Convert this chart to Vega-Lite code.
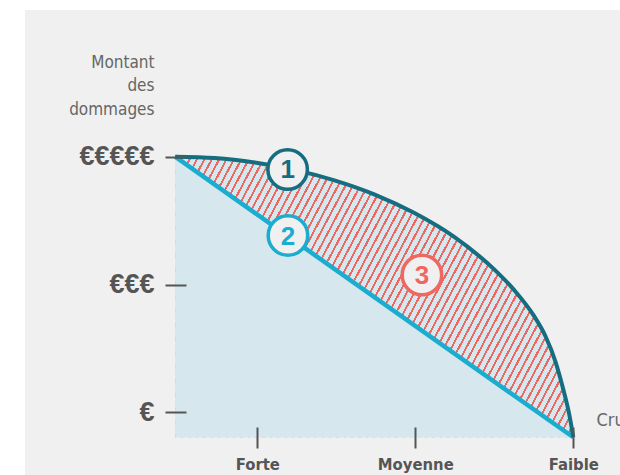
{
  "$schema": "https://vega.github.io/schema/vega-lite/v6.json",
  "width": 595,
  "height": 465,
  "autosize": {"type": "none"},
  "padding": {"left": 25, "top": 10, "right": 0, "bottom": 0},
  "background": "white",
  "config": {"view": {"fill": "#f0f0f0", "stroke": null}},
  "datasets": {
    "curve": [
      {"x": 0.48, "y": 5.0},
      {"x": 0.732, "y": 4.978},
      {"x": 0.984, "y": 4.908},
      {"x": 1.236, "y": 4.794},
      {"x": 1.488, "y": 4.631},
      {"x": 1.74, "y": 4.412},
      {"x": 1.992, "y": 4.122},
      {"x": 2.244, "y": 3.749},
      {"x": 2.496, "y": 3.244},
      {"x": 2.622, "y": 2.924},
      {"x": 2.748, "y": 2.52},
      {"x": 2.824, "y": 2.19},
      {"x": 2.887, "y": 1.795},
      {"x": 2.937, "y": 1.356},
      {"x": 2.975, "y": 0.961},
      {"x": 3.0, "y": 0.61}
    ],
    "straight": [
      {"x": 0.48, "y": 5.0},
      {"x": 3.0, "y": 0.61}
    ],
    "labels": [
      {"n": "1", "x": 1.192, "y": 4.8},
      {"n": "2", "x": 1.194, "y": 3.767},
      {"n": "3", "x": 2.042, "y": 3.149}
    ]
  },
  "encoding": {
    "x": {
      "field": "x", "type": "quantitative",
      "scale": {"domain": [-0.4703, 3.2956], "nice": false, "zero": false},
      "axis": {
        "values": [1, 2, 3],
        "labelExpr": "datum.value == 1 ? 'Forte' : datum.value == 2 ? 'Moyenne' : 'Faible'",
        "domain": false, "grid": false, "offset": -48,
        "tickSize": 21, "tickWidth": 2, "tickColor": "#555555",
        "labelPadding": 8, "labelFlush": false, "labelOverlap": false,
        "labelFont": "DejaVu Sans Condensed",
        "labelFontSize": 16.5, "labelFontWeight": "bold", "labelColor": "#555555",
        "title": "Crue", "titleX": 571, "titleY": -2, "titleAlign": "left", "titleBaseline": "alphabetic",
        "titleFont": "DejaVu Sans Condensed",
        "titleFontSize": 18, "titleFontWeight": "normal", "titleColor": "#666666",
        "zindex": 1
      }
    },
    "y": {
      "field": "y", "type": "quantitative",
      "scale": {"domain": [0.019, 7.296], "nice": false, "zero": false},
      "axis": {
        "values": [1, 3, 5],
        "labelExpr": "datum.value == 1 ? '€' : datum.value == 3 ? '€€€' : '€€€€€'",
        "domain": false, "grid": false, "offset": -161,
        "tickSize": 21, "tickWidth": 2, "tickColor": "#555555",
        "labelPadding": 11, "labelOverlap": false,
        "labelFont": "Liberation Sans", "labelFontSize": 27, "labelFontWeight": "bold", "labelColor": "#555555",
        "title": ["Montant", "des", "dommages"], "titleAngle": 0, "titleAlign": "right", "titleBaseline": "alphabetic",
        "titleX": -32, "titleY": 57, "titleLineHeight": 23.5,
        "titleFont": "DejaVu Sans Condensed",
        "titleFontSize": 17, "titleFontWeight": "normal", "titleColor": "#666666",
        "zindex": 1
      }
    }
  },
  "layer": [
    {
      "data": {"name": "curve"},
      "mark": {
        "type": "area", "interpolate": "monotone",
        "fill": {
          "gradient": "linear", "x1": 0, "y1": 0, "x2": 1.2053, "y2": 0.4504,
          "stops": [
            {"offset": 0, "color": "#ee6861"}, {"offset": 0.004, "color": "#ee6861"}, {"offset": 0.004, "color": "#d6e8ed"}, {"offset": 0.0135, "color": "#d6e8ed"},
            {"offset": 0.0135, "color": "#ee6861"}, {"offset": 0.0175, "color": "#ee6861"}, {"offset": 0.0175, "color": "#d6e8ed"}, {"offset": 0.027, "color": "#d6e8ed"},
            {"offset": 0.027, "color": "#ee6861"}, {"offset": 0.031, "color": "#ee6861"}, {"offset": 0.031, "color": "#d6e8ed"}, {"offset": 0.0405, "color": "#d6e8ed"},
            {"offset": 0.0405, "color": "#ee6861"}, {"offset": 0.0445, "color": "#ee6861"}, {"offset": 0.0445, "color": "#d6e8ed"}, {"offset": 0.054, "color": "#d6e8ed"},
            {"offset": 0.054, "color": "#ee6861"}, {"offset": 0.058, "color": "#ee6861"}, {"offset": 0.058, "color": "#d6e8ed"}, {"offset": 0.0675, "color": "#d6e8ed"},
            {"offset": 0.0675, "color": "#ee6861"}, {"offset": 0.0715, "color": "#ee6861"}, {"offset": 0.0715, "color": "#d6e8ed"}, {"offset": 0.081, "color": "#d6e8ed"},
            {"offset": 0.081, "color": "#ee6861"}, {"offset": 0.085, "color": "#ee6861"}, {"offset": 0.085, "color": "#d6e8ed"}, {"offset": 0.0945, "color": "#d6e8ed"},
            {"offset": 0.0945, "color": "#ee6861"}, {"offset": 0.0985, "color": "#ee6861"}, {"offset": 0.0985, "color": "#d6e8ed"}, {"offset": 0.108, "color": "#d6e8ed"},
            {"offset": 0.108, "color": "#ee6861"}, {"offset": 0.112, "color": "#ee6861"}, {"offset": 0.112, "color": "#d6e8ed"}, {"offset": 0.1215, "color": "#d6e8ed"},
            {"offset": 0.1215, "color": "#ee6861"}, {"offset": 0.1255, "color": "#ee6861"}, {"offset": 0.1255, "color": "#d6e8ed"}, {"offset": 0.135, "color": "#d6e8ed"},
            {"offset": 0.135, "color": "#ee6861"}, {"offset": 0.139, "color": "#ee6861"}, {"offset": 0.139, "color": "#d6e8ed"}, {"offset": 0.1485, "color": "#d6e8ed"},
            {"offset": 0.1485, "color": "#ee6861"}, {"offset": 0.1525, "color": "#ee6861"}, {"offset": 0.1525, "color": "#d6e8ed"}, {"offset": 0.162, "color": "#d6e8ed"},
            {"offset": 0.162, "color": "#ee6861"}, {"offset": 0.166, "color": "#ee6861"}, {"offset": 0.166, "color": "#d6e8ed"}, {"offset": 0.1755, "color": "#d6e8ed"},
            {"offset": 0.1755, "color": "#ee6861"}, {"offset": 0.1795, "color": "#ee6861"}, {"offset": 0.1795, "color": "#d6e8ed"}, {"offset": 0.189, "color": "#d6e8ed"},
            {"offset": 0.189, "color": "#ee6861"}, {"offset": 0.193, "color": "#ee6861"}, {"offset": 0.193, "color": "#d6e8ed"}, {"offset": 0.2025, "color": "#d6e8ed"},
            {"offset": 0.2025, "color": "#ee6861"}, {"offset": 0.2065, "color": "#ee6861"}, {"offset": 0.2065, "color": "#d6e8ed"}, {"offset": 0.216, "color": "#d6e8ed"},
            {"offset": 0.216, "color": "#ee6861"}, {"offset": 0.22, "color": "#ee6861"}, {"offset": 0.22, "color": "#d6e8ed"}, {"offset": 0.2295, "color": "#d6e8ed"},
            {"offset": 0.2295, "color": "#ee6861"}, {"offset": 0.2335, "color": "#ee6861"}, {"offset": 0.2335, "color": "#d6e8ed"}, {"offset": 0.243, "color": "#d6e8ed"},
            {"offset": 0.243, "color": "#ee6861"}, {"offset": 0.247, "color": "#ee6861"}, {"offset": 0.247, "color": "#d6e8ed"}, {"offset": 0.2565, "color": "#d6e8ed"},
            {"offset": 0.2565, "color": "#ee6861"}, {"offset": 0.2605, "color": "#ee6861"}, {"offset": 0.2605, "color": "#d6e8ed"}, {"offset": 0.27, "color": "#d6e8ed"},
            {"offset": 0.27, "color": "#ee6861"}, {"offset": 0.274, "color": "#ee6861"}, {"offset": 0.274, "color": "#d6e8ed"}, {"offset": 0.2835, "color": "#d6e8ed"},
            {"offset": 0.2835, "color": "#ee6861"}, {"offset": 0.2875, "color": "#ee6861"}, {"offset": 0.2875, "color": "#d6e8ed"}, {"offset": 0.297, "color": "#d6e8ed"},
            {"offset": 0.297, "color": "#ee6861"}, {"offset": 0.301, "color": "#ee6861"}, {"offset": 0.301, "color": "#d6e8ed"}, {"offset": 0.3105, "color": "#d6e8ed"},
            {"offset": 0.3105, "color": "#ee6861"}, {"offset": 0.3145, "color": "#ee6861"}, {"offset": 0.3145, "color": "#d6e8ed"}, {"offset": 0.324, "color": "#d6e8ed"},
            {"offset": 0.324, "color": "#ee6861"}, {"offset": 0.328, "color": "#ee6861"}, {"offset": 0.328, "color": "#d6e8ed"}, {"offset": 0.3375, "color": "#d6e8ed"},
            {"offset": 0.3375, "color": "#ee6861"}, {"offset": 0.3415, "color": "#ee6861"}, {"offset": 0.3415, "color": "#d6e8ed"}, {"offset": 0.351, "color": "#d6e8ed"},
            {"offset": 0.351, "color": "#ee6861"}, {"offset": 0.355, "color": "#ee6861"}, {"offset": 0.355, "color": "#d6e8ed"}, {"offset": 0.3645, "color": "#d6e8ed"},
            {"offset": 0.3645, "color": "#ee6861"}, {"offset": 0.3685, "color": "#ee6861"}, {"offset": 0.3685, "color": "#d6e8ed"}, {"offset": 0.378, "color": "#d6e8ed"},
            {"offset": 0.378, "color": "#ee6861"}, {"offset": 0.382, "color": "#ee6861"}, {"offset": 0.382, "color": "#d6e8ed"}, {"offset": 0.3915, "color": "#d6e8ed"},
            {"offset": 0.3915, "color": "#ee6861"}, {"offset": 0.3955, "color": "#ee6861"}, {"offset": 0.3955, "color": "#d6e8ed"}, {"offset": 0.405, "color": "#d6e8ed"},
            {"offset": 0.405, "color": "#ee6861"}, {"offset": 0.409, "color": "#ee6861"}, {"offset": 0.409, "color": "#d6e8ed"}, {"offset": 0.4185, "color": "#d6e8ed"},
            {"offset": 0.4185, "color": "#ee6861"}, {"offset": 0.4225, "color": "#ee6861"}, {"offset": 0.4225, "color": "#d6e8ed"}, {"offset": 0.432, "color": "#d6e8ed"},
            {"offset": 0.432, "color": "#ee6861"}, {"offset": 0.436, "color": "#ee6861"}, {"offset": 0.436, "color": "#d6e8ed"}, {"offset": 0.4455, "color": "#d6e8ed"},
            {"offset": 0.4455, "color": "#ee6861"}, {"offset": 0.4495, "color": "#ee6861"}, {"offset": 0.4495, "color": "#d6e8ed"}, {"offset": 0.459, "color": "#d6e8ed"},
            {"offset": 0.459, "color": "#ee6861"}, {"offset": 0.463, "color": "#ee6861"}, {"offset": 0.463, "color": "#d6e8ed"}, {"offset": 0.4725, "color": "#d6e8ed"},
            {"offset": 0.4725, "color": "#ee6861"}, {"offset": 0.4765, "color": "#ee6861"}, {"offset": 0.4765, "color": "#d6e8ed"}, {"offset": 0.486, "color": "#d6e8ed"},
            {"offset": 0.486, "color": "#ee6861"}, {"offset": 0.49, "color": "#ee6861"}, {"offset": 0.49, "color": "#d6e8ed"}, {"offset": 0.4995, "color": "#d6e8ed"},
            {"offset": 0.4995, "color": "#ee6861"}, {"offset": 0.5035, "color": "#ee6861"}, {"offset": 0.5035, "color": "#d6e8ed"}, {"offset": 0.513, "color": "#d6e8ed"},
            {"offset": 0.513, "color": "#ee6861"}, {"offset": 0.517, "color": "#ee6861"}, {"offset": 0.517, "color": "#d6e8ed"}, {"offset": 0.5265, "color": "#d6e8ed"},
            {"offset": 0.5265, "color": "#ee6861"}, {"offset": 0.5305, "color": "#ee6861"}, {"offset": 0.5305, "color": "#d6e8ed"}, {"offset": 0.54, "color": "#d6e8ed"},
            {"offset": 0.54, "color": "#ee6861"}, {"offset": 0.544, "color": "#ee6861"}, {"offset": 0.544, "color": "#d6e8ed"}, {"offset": 0.5535, "color": "#d6e8ed"},
            {"offset": 0.5535, "color": "#ee6861"}, {"offset": 0.5575, "color": "#ee6861"}, {"offset": 0.5575, "color": "#d6e8ed"}, {"offset": 0.567, "color": "#d6e8ed"},
            {"offset": 0.567, "color": "#ee6861"}, {"offset": 0.571, "color": "#ee6861"}, {"offset": 0.571, "color": "#d6e8ed"}, {"offset": 0.5805, "color": "#d6e8ed"},
            {"offset": 0.5805, "color": "#ee6861"}, {"offset": 0.5845, "color": "#ee6861"}, {"offset": 0.5845, "color": "#d6e8ed"}, {"offset": 0.594, "color": "#d6e8ed"},
            {"offset": 0.594, "color": "#ee6861"}, {"offset": 0.598, "color": "#ee6861"}, {"offset": 0.598, "color": "#d6e8ed"}, {"offset": 0.6075, "color": "#d6e8ed"},
            {"offset": 0.6075, "color": "#ee6861"}, {"offset": 0.6115, "color": "#ee6861"}, {"offset": 0.6115, "color": "#d6e8ed"}, {"offset": 0.621, "color": "#d6e8ed"},
            {"offset": 0.621, "color": "#ee6861"}, {"offset": 0.625, "color": "#ee6861"}, {"offset": 0.625, "color": "#d6e8ed"}, {"offset": 0.6345, "color": "#d6e8ed"},
            {"offset": 0.6345, "color": "#ee6861"}, {"offset": 0.6385, "color": "#ee6861"}, {"offset": 0.6385, "color": "#d6e8ed"}, {"offset": 0.648, "color": "#d6e8ed"},
            {"offset": 0.648, "color": "#ee6861"}, {"offset": 0.652, "color": "#ee6861"}, {"offset": 0.652, "color": "#d6e8ed"}, {"offset": 0.6615, "color": "#d6e8ed"},
            {"offset": 0.6615, "color": "#ee6861"}, {"offset": 0.6655, "color": "#ee6861"}, {"offset": 0.6655, "color": "#d6e8ed"}, {"offset": 0.675, "color": "#d6e8ed"},
            {"offset": 0.675, "color": "#ee6861"}, {"offset": 0.679, "color": "#ee6861"}, {"offset": 0.679, "color": "#d6e8ed"}, {"offset": 0.6885, "color": "#d6e8ed"},
            {"offset": 0.6885, "color": "#ee6861"}, {"offset": 0.6925, "color": "#ee6861"}, {"offset": 0.6925, "color": "#d6e8ed"}, {"offset": 0.702, "color": "#d6e8ed"},
            {"offset": 0.702, "color": "#ee6861"}, {"offset": 0.706, "color": "#ee6861"}, {"offset": 0.706, "color": "#d6e8ed"}, {"offset": 0.7155, "color": "#d6e8ed"},
            {"offset": 0.7155, "color": "#ee6861"}, {"offset": 0.7195, "color": "#ee6861"}, {"offset": 0.7195, "color": "#d6e8ed"}, {"offset": 0.729, "color": "#d6e8ed"},
            {"offset": 0.729, "color": "#ee6861"}, {"offset": 0.733, "color": "#ee6861"}, {"offset": 0.733, "color": "#d6e8ed"}, {"offset": 0.7425, "color": "#d6e8ed"},
            {"offset": 0.7425, "color": "#ee6861"}, {"offset": 0.7465, "color": "#ee6861"}, {"offset": 0.7465, "color": "#d6e8ed"}, {"offset": 0.756, "color": "#d6e8ed"},
            {"offset": 0.756, "color": "#ee6861"}, {"offset": 0.76, "color": "#ee6861"}, {"offset": 0.76, "color": "#d6e8ed"}, {"offset": 0.7695, "color": "#d6e8ed"},
            {"offset": 0.7695, "color": "#ee6861"}, {"offset": 0.7735, "color": "#ee6861"}, {"offset": 0.7735, "color": "#d6e8ed"}, {"offset": 0.783, "color": "#d6e8ed"},
            {"offset": 0.783, "color": "#ee6861"}, {"offset": 0.787, "color": "#ee6861"}, {"offset": 0.787, "color": "#d6e8ed"}, {"offset": 0.7965, "color": "#d6e8ed"},
            {"offset": 0.7965, "color": "#ee6861"}, {"offset": 0.8005, "color": "#ee6861"}, {"offset": 0.8005, "color": "#d6e8ed"}, {"offset": 0.81, "color": "#d6e8ed"},
            {"offset": 0.81, "color": "#ee6861"}, {"offset": 0.814, "color": "#ee6861"}, {"offset": 0.814, "color": "#d6e8ed"}, {"offset": 0.8235, "color": "#d6e8ed"},
            {"offset": 0.8235, "color": "#ee6861"}, {"offset": 0.8275, "color": "#ee6861"}, {"offset": 0.8275, "color": "#d6e8ed"}, {"offset": 0.837, "color": "#d6e8ed"},
            {"offset": 0.837, "color": "#ee6861"}, {"offset": 0.841, "color": "#ee6861"}, {"offset": 0.841, "color": "#d6e8ed"}, {"offset": 0.8505, "color": "#d6e8ed"},
            {"offset": 0.8505, "color": "#ee6861"}, {"offset": 0.8545, "color": "#ee6861"}, {"offset": 0.8545, "color": "#d6e8ed"}, {"offset": 0.864, "color": "#d6e8ed"},
            {"offset": 0.864, "color": "#ee6861"}, {"offset": 0.868, "color": "#ee6861"}, {"offset": 0.868, "color": "#d6e8ed"}, {"offset": 0.8775, "color": "#d6e8ed"},
            {"offset": 0.8775, "color": "#ee6861"}, {"offset": 0.8815, "color": "#ee6861"}, {"offset": 0.8815, "color": "#d6e8ed"}, {"offset": 0.891, "color": "#d6e8ed"},
            {"offset": 0.891, "color": "#ee6861"}, {"offset": 0.895, "color": "#ee6861"}, {"offset": 0.895, "color": "#d6e8ed"}, {"offset": 0.9045, "color": "#d6e8ed"},
            {"offset": 0.9045, "color": "#ee6861"}, {"offset": 0.9085, "color": "#ee6861"}, {"offset": 0.9085, "color": "#d6e8ed"}, {"offset": 0.918, "color": "#d6e8ed"},
            {"offset": 0.918, "color": "#ee6861"}, {"offset": 0.922, "color": "#ee6861"}, {"offset": 0.922, "color": "#d6e8ed"}, {"offset": 0.9315, "color": "#d6e8ed"},
            {"offset": 0.9315, "color": "#ee6861"}, {"offset": 0.9355, "color": "#ee6861"}, {"offset": 0.9355, "color": "#d6e8ed"}, {"offset": 0.945, "color": "#d6e8ed"},
            {"offset": 0.945, "color": "#ee6861"}, {"offset": 0.949, "color": "#ee6861"}, {"offset": 0.949, "color": "#d6e8ed"}, {"offset": 0.9585, "color": "#d6e8ed"},
            {"offset": 0.9585, "color": "#ee6861"}, {"offset": 0.9625, "color": "#ee6861"}, {"offset": 0.9625, "color": "#d6e8ed"}, {"offset": 0.972, "color": "#d6e8ed"},
            {"offset": 0.972, "color": "#ee6861"}, {"offset": 0.976, "color": "#ee6861"}, {"offset": 0.976, "color": "#d6e8ed"}, {"offset": 0.9855, "color": "#d6e8ed"},
            {"offset": 0.9855, "color": "#ee6861"}, {"offset": 0.9895, "color": "#ee6861"}, {"offset": 0.9895, "color": "#d6e8ed"}, {"offset": 1, "color": "#d6e8ed"}
          ]
        }
      },
      "encoding": {"y2": {"datum": 0.61}}
    },
    {
      "data": {"name": "straight"},
      "mark": {"type": "area", "fill": "#d6e8ed"},
      "encoding": {"y2": {"datum": 0.61}}
    },
    {
      "data": {"values": [{}]},
      "mark": {"type": "rule", "color": "#b5b5b5", "strokeWidth": 2},
      "encoding": {"x": {"datum": 0.48}, "y": {"datum": 0.61}, "y2": {"datum": 6.35}}
    },
    {
      "data": {"values": [{}]},
      "mark": {"type": "rule", "color": "#a8a8a8", "strokeWidth": 2},
      "encoding": {"x": {"datum": 0.48}, "x2": {"datum": 3.3}, "y": {"datum": 0.61}}
    },
    {
      "data": {"name": "straight"},
      "mark": {"type": "line", "color": "#1badd0", "strokeWidth": 4.5},
      "encoding": {}
    },
    {
      "data": {"name": "curve"},
      "mark": {"type": "line", "color": "#156d80", "strokeWidth": 4, "interpolate": "monotone"},
      "encoding": {}
    },
    {
      "data": {"name": "labels"},
      "mark": {"type": "point", "shape": "circle", "filled": false, "fill": "#f0f0f0", "fillOpacity": 1, "opacity": 1, "size": 1560, "strokeWidth": 3.5},
      "encoding": {
        "stroke": {"field": "n", "type": "nominal", "scale": {"domain": ["1", "2", "3"], "range": ["#156d80", "#1badd0", "#ee6861"]}, "legend": null}
      }
    },
    {
      "data": {"name": "labels"},
      "mark": {"type": "text", "font": "Liberation Sans", "fontSize": 26, "fontWeight": "bold", "baseline": "middle", "align": "center", "dy": 1},
      "encoding": {
        "text": {"field": "n"},
        "color": {"field": "n", "type": "nominal", "scale": {"domain": ["1", "2", "3"], "range": ["#156d80", "#1badd0", "#ee6861"]}, "legend": null}
      }
    }
  ]
}
